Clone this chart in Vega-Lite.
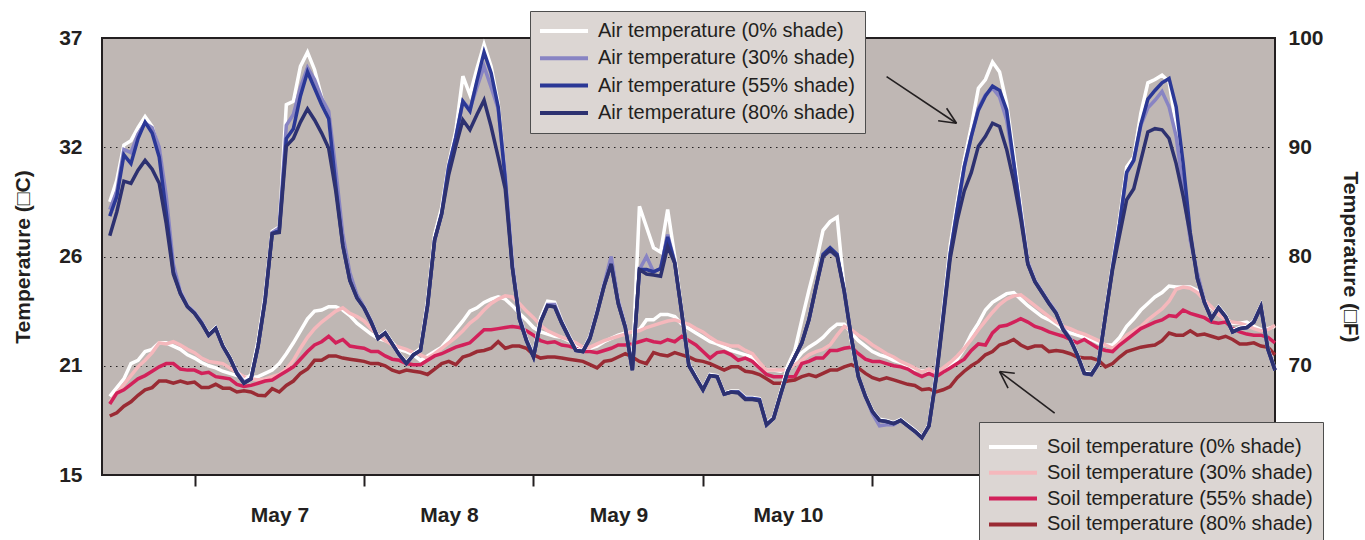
{
"$schema": "https://vega.github.io/schema/vega-lite/v6.json",
"width": 1173,
"height": 437,
"autosize": {"type": "none"},
"padding": {"left": 102, "top": 38, "right": 90, "bottom": 65},
"background": "#ffffff",
"datasets": {
"names": [
{"k": "a0", "name": "Air temperature (0% shade)"},
{"k": "a3", "name": "Air temperature (30% shade)"},
{"k": "a5", "name": "Air temperature (55% shade)"},
{"k": "a8", "name": "Air temperature (80% shade)"},
{"k": "s0", "name": "Soil temperature (0% shade)"},
{"k": "s3", "name": "Soil temperature (30% shade)"},
{"k": "s5", "name": "Soil temperature (55% shade)"},
{"k": "s8", "name": "Soil temperature (80% shade)"}
]
},
"data": {"values": [
{"h":12,"a0":85.0,"a3":84.3,"a5":83.7,"a8":81.9,"s0":67.2,"s3":66.7,"s5":66.5,"s8":65.4},
{"h":13,"a0":87.0,"a3":86.0,"a5":85.5,"a8":84.1,"s0":68.0,"s3":67.5,"s5":67.5,"s8":65.7},
{"h":14,"a0":90.2,"a3":89.8,"a5":89.3,"a8":86.9,"s0":68.8,"s3":68.3,"s5":67.8,"s8":66.3},
{"h":15,"a0":90.6,"a3":89.5,"a5":88.5,"a8":86.7,"s0":70.2,"s3":69.1,"s5":68.3,"s8":66.7},
{"h":16,"a0":91.8,"a3":91.2,"a5":90.8,"a8":87.9,"s0":70.5,"s3":69.9,"s5":68.8,"s8":67.3},
{"h":17,"a0":92.8,"a3":92.2,"a5":92.3,"a8":88.8,"s0":71.3,"s3":70.5,"s5":69.1,"s8":67.8},
{"h":18,"a0":91.9,"a3":91.8,"a5":91.3,"a8":88.0,"s0":71.5,"s3":71.2,"s5":69.5,"s8":68.0},
{"h":19,"a0":89.7,"a3":90.0,"a5":89.1,"a8":86.7,"s0":72.1,"s3":72.1,"s5":69.9,"s8":68.6},
{"h":20,"a0":84.5,"a3":85.5,"a5":84.0,"a8":83.0,"s0":72.1,"s3":72.0,"s5":70.2,"s8":68.6},
{"h":21,"a0":79.0,"a3":79.3,"a5":78.6,"a8":78.4,"s0":71.8,"s3":72.2,"s5":70.2,"s8":68.4},
{"h":22,"a0":76.8,"a3":76.8,"a5":76.6,"a8":76.6,"s0":71.5,"s3":71.9,"s5":69.7,"s8":68.6},
{"h":23,"a0":75.5,"a3":75.5,"a5":75.4,"a8":75.4,"s0":71.0,"s3":71.5,"s5":69.6,"s8":68.4},
{"h":24,"a0":74.9,"a3":74.9,"a5":74.8,"a8":74.8,"s0":70.7,"s3":71.2,"s5":69.6,"s8":68.5},
{"h":25,"a0":74.0,"a3":74.0,"a5":73.9,"a8":73.9,"s0":70.3,"s3":70.7,"s5":69.3,"s8":68.0},
{"h":26,"a0":72.9,"a3":72.8,"a5":72.8,"a8":72.8,"s0":70.0,"s3":70.4,"s5":69.4,"s8":68.0},
{"h":27,"a0":73.5,"a3":73.4,"a5":73.4,"a8":73.4,"s0":69.8,"s3":70.3,"s5":69.0,"s8":68.3},
{"h":28,"a0":71.9,"a3":71.8,"a5":71.8,"a8":71.8,"s0":69.5,"s3":70.2,"s5":68.9,"s8":67.95},
{"h":29,"a0":70.8,"a3":70.7,"a5":70.7,"a8":70.7,"s0":69.3,"s3":69.8,"s5":68.8,"s8":67.95},
{"h":30,"a0":69.5,"a3":69.4,"a5":69.3,"a8":69.3,"s0":69.1,"s3":69.4,"s5":68.3,"s8":67.6},
{"h":31,"a0":68.6,"a3":68.5,"a5":68.4,"a8":68.4,"s0":69.0,"s3":69.0,"s5":68.1,"s8":67.7},
{"h":32,"a0":69.2,"a3":68.8,"a5":68.8,"a8":68.8,"s0":68.9,"s3":68.8,"s5":68.2,"s8":67.6},
{"h":33,"a0":72.3,"a3":71.8,"a5":71.8,"a8":71.8,"s0":69.0,"s3":68.7,"s5":68.4,"s8":67.3},
{"h":34,"a0":76.6,"a3":76.2,"a5":76.0,"a8":76.0,"s0":69.3,"s3":68.8,"s5":68.6,"s8":67.25},
{"h":35,"a0":82.3,"a3":82.2,"a5":82.1,"a8":82.1,"s0":69.6,"s3":69.0,"s5":68.7,"s8":67.9},
{"h":36,"a0":82.7,"a3":82.6,"a5":82.4,"a8":82.2,"s0":70.2,"s3":69.2,"s5":69.1,"s8":67.6},
{"h":37,"a0":93.9,"a3":92.0,"a5":90.8,"a8":90.1,"s0":71.1,"s3":69.7,"s5":69.5,"s8":68.2},
{"h":38,"a0":94.2,"a3":93.0,"a5":91.7,"a8":90.8,"s0":72.1,"s3":70.5,"s5":69.9,"s8":68.6},
{"h":39,"a0":97.4,"a3":95.5,"a5":94.7,"a8":92.3,"s0":73.2,"s3":71.6,"s5":70.6,"s8":69.3},
{"h":40,"a0":98.7,"a3":97.3,"a5":96.9,"a8":93.5,"s0":74.3,"s3":72.6,"s5":71.3,"s8":69.7},
{"h":41,"a0":97.1,"a3":96.2,"a5":95.4,"a8":92.5,"s0":75.0,"s3":73.4,"s5":71.9,"s8":70.5},
{"h":42,"a0":94.6,"a3":94.5,"a5":93.9,"a8":91.3,"s0":75.1,"s3":74.0,"s5":72.2,"s8":70.5},
{"h":43,"a0":92.8,"a3":93.3,"a5":92.6,"a8":89.9,"s0":75.4,"s3":74.5,"s5":72.7,"s8":70.9},
{"h":44,"a0":87.0,"a3":88.0,"a5":86.5,"a8":86.0,"s0":75.4,"s3":75.0,"s5":72.1,"s8":70.9},
{"h":45,"a0":81.3,"a3":82.0,"a5":81.0,"a8":81.0,"s0":75.1,"s3":75.3,"s5":72.4,"s8":70.7},
{"h":46,"a0":78.0,"a3":78.5,"a5":77.8,"a8":77.8,"s0":74.6,"s3":74.8,"s5":71.8,"s8":70.6},
{"h":47,"a0":76.3,"a3":76.5,"a5":76.2,"a8":76.2,"s0":73.9,"s3":74.5,"s5":71.7,"s8":70.5},
{"h":48,"a0":75.4,"a3":75.4,"a5":75.3,"a8":75.3,"s0":73.4,"s3":74.1,"s5":71.6,"s8":70.4},
{"h":49,"a0":74.1,"a3":74.1,"a5":74.0,"a8":74.0,"s0":72.9,"s3":73.4,"s5":71.3,"s8":70.2},
{"h":50,"a0":72.6,"a3":72.5,"a5":72.5,"a8":72.5,"s0":72.5,"s3":72.8,"s5":71.3,"s8":70.2},
{"h":51,"a0":73.1,"a3":73.0,"a5":73.0,"a8":73.0,"s0":72.3,"s3":72.3,"s5":70.9,"s8":70.0},
{"h":52,"a0":72.1,"a3":72.0,"a5":72.0,"a8":72.0,"s0":72.1,"s3":71.9,"s5":70.6,"s8":69.6},
{"h":53,"a0":71.1,"a3":71.0,"a5":71.0,"a8":71.0,"s0":71.5,"s3":71.7,"s5":70.5,"s8":69.4},
{"h":54,"a0":70.3,"a3":70.2,"a5":70.2,"a8":70.2,"s0":71.3,"s3":71.5,"s5":70.2,"s8":69.6},
{"h":55,"a0":71.1,"a3":71.0,"a5":71.0,"a8":71.0,"s0":71.0,"s3":71.2,"s5":70.1,"s8":69.5},
{"h":56,"a0":71.6,"a3":71.4,"a5":71.4,"a8":71.4,"s0":70.5,"s3":71.0,"s5":70.1,"s8":69.4},
{"h":57,"a0":76.0,"a3":75.6,"a5":75.5,"a8":75.5,"s0":70.9,"s3":70.7,"s5":70.5,"s8":69.2},
{"h":58,"a0":82.0,"a3":81.5,"a5":81.5,"a8":81.5,"s0":71.3,"s3":71.1,"s5":70.9,"s8":69.7},
{"h":59,"a0":84.5,"a3":84.0,"a5":83.9,"a8":83.9,"s0":71.7,"s3":71.6,"s5":71.1,"s8":70.2},
{"h":60,"a0":88.5,"a3":88.3,"a5":88.2,"a8":87.5,"s0":72.5,"s3":72.1,"s5":71.4,"s8":70.4},
{"h":61,"a0":91.5,"a3":90.9,"a5":90.9,"a8":90.1,"s0":73.3,"s3":72.6,"s5":71.7,"s8":70.1},
{"h":62,"a0":96.5,"a3":94.2,"a5":94.2,"a8":92.5,"s0":74.1,"s3":73.2,"s5":71.9,"s8":70.8},
{"h":63,"a0":94.8,"a3":93.5,"a5":93.3,"a8":91.6,"s0":75.0,"s3":73.9,"s5":72.1,"s8":71.0},
{"h":64,"a0":97.2,"a3":95.5,"a5":96.1,"a8":93.0,"s0":75.3,"s3":74.4,"s5":72.7,"s8":71.3},
{"h":65,"a0":99.4,"a3":97.4,"a5":98.7,"a8":94.3,"s0":75.8,"s3":75.1,"s5":73.3,"s8":71.4},
{"h":66,"a0":97.4,"a3":95.5,"a5":96.8,"a8":91.9,"s0":76.1,"s3":75.7,"s5":73.3,"s8":71.6},
{"h":67,"a0":94.0,"a3":93.5,"a5":93.7,"a8":89.1,"s0":76.3,"s3":76.1,"s5":73.4,"s8":72.2},
{"h":68,"a0":87.3,"a3":87.5,"a5":87.0,"a8":86.2,"s0":76.1,"s3":76.4,"s5":73.5,"s8":71.6},
{"h":69,"a0":79.5,"a3":79.5,"a5":79.0,"a8":79.0,"s0":75.5,"s3":76.3,"s5":73.6,"s8":71.8},
{"h":70,"a0":74.6,"a3":74.5,"a5":74.3,"a8":74.3,"s0":74.8,"s3":75.7,"s5":73.5,"s8":71.8},
{"h":71,"a0":72.5,"a3":72.4,"a5":72.3,"a8":72.3,"s0":74.2,"s3":75.0,"s5":73.2,"s8":71.6},
{"h":72,"a0":71.0,"a3":70.9,"a5":70.8,"a8":70.8,"s0":73.5,"s3":74.4,"s5":72.8,"s8":71.0},
{"h":73,"a0":74.4,"a3":74.0,"a5":74.0,"a8":74.0,"s0":73.1,"s3":73.7,"s5":72.3,"s8":70.7},
{"h":74,"a0":75.9,"a3":75.6,"a5":75.5,"a8":75.5,"s0":72.9,"s3":73.2,"s5":72.1,"s8":70.8},
{"h":75,"a0":75.8,"a3":75.6,"a5":75.4,"a8":75.4,"s0":72.7,"s3":72.9,"s5":72.2,"s8":70.8},
{"h":76,"a0":74.1,"a3":74.0,"a5":73.9,"a8":73.9,"s0":72.6,"s3":72.6,"s5":71.9,"s8":70.7},
{"h":77,"a0":72.8,"a3":72.7,"a5":72.6,"a8":72.6,"s0":72.3,"s3":72.4,"s5":71.8,"s8":70.6},
{"h":78,"a0":71.5,"a3":71.4,"a5":71.4,"a8":71.4,"s0":71.8,"s3":72.1,"s5":71.6,"s8":70.5},
{"h":79,"a0":71.4,"a3":71.3,"a5":71.3,"a8":71.3,"s0":71.4,"s3":71.7,"s5":71.3,"s8":70.4},
{"h":80,"a0":72.7,"a3":72.6,"a5":72.5,"a8":72.5,"s0":71.6,"s3":71.7,"s5":71.3,"s8":70.1},
{"h":81,"a0":75.0,"a3":74.9,"a5":74.8,"a8":74.8,"s0":71.8,"s3":72.0,"s5":71.2,"s8":69.8},
{"h":82,"a0":77.5,"a3":77.5,"a5":77.3,"a8":77.3,"s0":72.2,"s3":72.3,"s5":71.4,"s8":70.4},
{"h":83,"a0":79.6,"a3":80.0,"a5":79.3,"a8":79.3,"s0":72.5,"s3":72.5,"s5":71.6,"s8":70.5},
{"h":84,"a0":76.0,"a3":76.0,"a5":75.7,"a8":75.7,"s0":72.8,"s3":72.7,"s5":71.9,"s8":70.8},
{"h":85,"a0":73.6,"a3":73.6,"a5":73.5,"a8":73.5,"s0":73.0,"s3":72.9,"s5":71.9,"s8":71.1},
{"h":86,"a0":69.8,"a3":69.7,"a5":69.6,"a8":69.6,"s0":73.1,"s3":73.1,"s5":72.0,"s8":70.8},
{"h":87,"a0":84.6,"a3":78.8,"a5":78.8,"a8":78.8,"s0":73.3,"s3":73.2,"s5":72.2,"s8":70.4},
{"h":88,"a0":82.7,"a3":80.0,"a5":78.8,"a8":78.4,"s0":74.2,"s3":73.5,"s5":72.4,"s8":70.2},
{"h":89,"a0":80.8,"a3":78.6,"a5":78.6,"a8":78.3,"s0":74.2,"s3":73.7,"s5":72.2,"s8":71.2},
{"h":90,"a0":80.4,"a3":78.9,"a5":78.9,"a8":78.2,"s0":74.7,"s3":73.9,"s5":72.1,"s8":71.0},
{"h":91,"a0":84.3,"a3":82.0,"a5":81.8,"a8":80.9,"s0":74.7,"s3":74.1,"s5":72.4,"s8":70.9},
{"h":92,"a0":80.0,"a3":79.5,"a5":79.4,"a8":79.4,"s0":74.5,"s3":74.2,"s5":72.2,"s8":71.2},
{"h":93,"a0":75.0,"a3":74.9,"a5":74.8,"a8":74.8,"s0":73.8,"s3":74.0,"s5":72.7,"s8":71.0},
{"h":94,"a0":70.2,"a3":70.1,"a5":70.0,"a8":70.0,"s0":73.4,"s3":73.8,"s5":72.3,"s8":70.8},
{"h":95,"a0":69.0,"a3":68.9,"a5":68.9,"a8":68.9,"s0":73.0,"s3":73.4,"s5":71.9,"s8":70.5},
{"h":96,"a0":67.9,"a3":67.8,"a5":67.8,"a8":67.8,"s0":72.6,"s3":73.1,"s5":71.3,"s8":70.4},
{"h":97,"a0":69.2,"a3":69.1,"a5":69.1,"a8":69.1,"s0":72.2,"s3":72.6,"s5":70.7,"s8":70.2},
{"h":98,"a0":69.1,"a3":69.0,"a5":69.0,"a8":69.0,"s0":72.0,"s3":72.2,"s5":71.2,"s8":69.9},
{"h":99,"a0":67.5,"a3":67.4,"a5":67.4,"a8":67.4,"s0":71.7,"s3":72.0,"s5":71.3,"s8":69.6},
{"h":100,"a0":67.7,"a3":67.6,"a5":67.6,"a8":67.6,"s0":71.4,"s3":71.8,"s5":71.0,"s8":69.9},
{"h":101,"a0":67.7,"a3":67.6,"a5":67.6,"a8":67.5,"s0":71.2,"s3":71.8,"s5":70.5,"s8":69.9},
{"h":102,"a0":67.1,"a3":67.0,"a5":67.0,"a8":66.9,"s0":71.0,"s3":71.4,"s5":70.7,"s8":69.5},
{"h":103,"a0":67.1,"a3":67.0,"a5":67.0,"a8":66.9,"s0":70.8,"s3":71.1,"s5":70.4,"s8":69.4},
{"h":104,"a0":67.0,"a3":66.9,"a5":66.9,"a8":66.8,"s0":70.0,"s3":70.3,"s5":69.8,"s8":69.2},
{"h":105,"a0":64.7,"a3":64.6,"a5":64.6,"a8":64.6,"s0":69.6,"s3":69.6,"s5":69.2,"s8":68.8},
{"h":106,"a0":65.3,"a3":65.2,"a5":65.2,"a8":65.2,"s0":69.6,"s3":69.6,"s5":69.0,"s8":68.4},
{"h":107,"a0":67.6,"a3":67.4,"a5":67.4,"a8":67.4,"s0":69.5,"s3":69.6,"s5":69.0,"s8":68.4},
{"h":108,"a0":70.0,"a3":69.5,"a5":69.5,"a8":69.5,"s0":69.8,"s3":69.6,"s5":69.0,"s8":68.6},
{"h":109,"a0":71.4,"a3":70.8,"a5":70.8,"a8":70.8,"s0":70.4,"s3":70.1,"s5":69.0,"s8":68.7},
{"h":110,"a0":74.2,"a3":72.1,"a5":72.1,"a8":72.1,"s0":71.2,"s3":70.5,"s5":70.2,"s8":69.0},
{"h":111,"a0":76.9,"a3":74.2,"a5":74.2,"a8":74.2,"s0":71.7,"s3":71.0,"s5":70.4,"s8":69.2},
{"h":112,"a0":79.4,"a3":77.2,"a5":77.2,"a8":77.2,"s0":72.1,"s3":71.3,"s5":70.7,"s8":69.0},
{"h":113,"a0":82.4,"a3":80.0,"a5":80.2,"a8":80.0,"s0":72.6,"s3":71.5,"s5":70.7,"s8":69.3},
{"h":114,"a0":83.2,"a3":80.5,"a5":80.8,"a8":80.6,"s0":73.3,"s3":71.9,"s5":71.4,"s8":69.6},
{"h":115,"a0":83.6,"a3":80.0,"a5":80.2,"a8":80.0,"s0":73.8,"s3":72.8,"s5":71.4,"s8":69.6},
{"h":116,"a0":77.0,"a3":77.0,"a5":76.8,"a8":76.8,"s0":73.8,"s3":73.6,"s5":71.6,"s8":69.9},
{"h":117,"a0":72.3,"a3":72.6,"a5":72.6,"a8":72.6,"s0":73.0,"s3":73.3,"s5":71.7,"s8":70.1},
{"h":118,"a0":69.0,"a3":69.0,"a5":69.0,"a8":69.0,"s0":72.3,"s3":72.8,"s5":71.1,"s8":69.8},
{"h":119,"a0":67.3,"a3":67.2,"a5":67.2,"a8":67.2,"s0":71.8,"s3":72.4,"s5":70.6,"s8":69.3},
{"h":120,"a0":65.9,"a3":65.6,"a5":65.8,"a8":65.8,"s0":71.3,"s3":71.9,"s5":70.4,"s8":68.9},
{"h":121,"a0":65.1,"a3":64.5,"a5":65.0,"a8":65.0,"s0":71.0,"s3":71.5,"s5":70.4,"s8":68.7},
{"h":122,"a0":65.0,"a3":64.6,"a5":64.9,"a8":64.9,"s0":70.8,"s3":71.1,"s5":70.2,"s8":68.9},
{"h":123,"a0":64.8,"a3":64.6,"a5":64.7,"a8":64.7,"s0":70.5,"s3":70.8,"s5":70.0,"s8":68.7},
{"h":124,"a0":65.1,"a3":65.0,"a5":65.0,"a8":65.0,"s0":70.3,"s3":70.4,"s5":69.9,"s8":68.5},
{"h":125,"a0":64.6,"a3":64.5,"a5":64.5,"a8":64.5,"s0":70.0,"s3":70.1,"s5":69.7,"s8":68.3},
{"h":126,"a0":64.1,"a3":64.0,"a5":64.0,"a8":64.0,"s0":69.7,"s3":69.8,"s5":69.3,"s8":68.2},
{"h":127,"a0":63.5,"a3":63.4,"a5":63.4,"a8":63.4,"s0":69.5,"s3":69.4,"s5":69.0,"s8":67.8},
{"h":128,"a0":64.6,"a3":64.5,"a5":64.5,"a8":64.5,"s0":69.6,"s3":69.7,"s5":69.3,"s8":67.9},
{"h":129,"a0":69.2,"a3":68.9,"a5":68.9,"a8":68.7,"s0":69.3,"s3":69.3,"s5":69.0,"s8":67.6},
{"h":130,"a0":75.0,"a3":74.5,"a5":74.5,"a8":74.2,"s0":69.4,"s3":69.8,"s5":69.4,"s8":67.8},
{"h":131,"a0":81.0,"a3":80.2,"a5":80.2,"a8":79.8,"s0":69.9,"s3":70.3,"s5":69.8,"s8":68.1},
{"h":132,"a0":85.0,"a3":84.3,"a5":84.3,"a8":83.3,"s0":70.6,"s3":70.9,"s5":70.2,"s8":68.9},
{"h":133,"a0":88.8,"a3":88.2,"a5":88.2,"a8":86.0,"s0":71.6,"s3":71.6,"s5":70.6,"s8":69.5},
{"h":134,"a0":91.9,"a3":91.0,"a5":91.0,"a8":87.7,"s0":72.9,"s3":72.4,"s5":71.4,"s8":70.0},
{"h":135,"a0":95.4,"a3":93.6,"a5":93.4,"a8":90.1,"s0":73.9,"s3":73.3,"s5":72.0,"s8":70.4},
{"h":136,"a0":96.2,"a3":94.8,"a5":94.7,"a8":91.0,"s0":75.1,"s3":74.1,"s5":71.9,"s8":71.0},
{"h":137,"a0":97.8,"a3":95.4,"a5":95.6,"a8":92.2,"s0":75.8,"s3":74.9,"s5":73.0,"s8":71.3},
{"h":138,"a0":96.9,"a3":94.6,"a5":95.2,"a8":91.9,"s0":76.2,"s3":75.6,"s5":73.6,"s8":71.9},
{"h":139,"a0":94.0,"a3":92.5,"a5":93.4,"a8":89.8,"s0":76.6,"s3":76.1,"s5":73.7,"s8":72.1},
{"h":140,"a0":89.4,"a3":88.5,"a5":88.6,"a8":86.9,"s0":76.7,"s3":76.4,"s5":74.0,"s8":72.4},
{"h":141,"a0":84.5,"a3":84.0,"a5":83.8,"a8":83.4,"s0":76.1,"s3":76.5,"s5":74.3,"s8":71.9},
{"h":142,"a0":79.5,"a3":79.5,"a5":79.3,"a8":79.3,"s0":75.5,"s3":76.0,"s5":74.0,"s8":71.6},
{"h":143,"a0":77.8,"a3":77.8,"a5":77.7,"a8":77.7,"s0":75.0,"s3":75.5,"s5":73.6,"s8":71.8},
{"h":144,"a0":76.8,"a3":76.8,"a5":76.7,"a8":76.7,"s0":74.5,"s3":75.0,"s5":73.4,"s8":71.8},
{"h":145,"a0":75.8,"a3":75.8,"a5":75.7,"a8":75.7,"s0":74.2,"s3":74.5,"s5":73.1,"s8":71.3},
{"h":146,"a0":74.9,"a3":74.9,"a5":74.8,"a8":74.8,"s0":73.8,"s3":74.0,"s5":72.9,"s8":71.4},
{"h":147,"a0":73.4,"a3":73.4,"a5":73.3,"a8":73.3,"s0":73.3,"s3":73.6,"s5":72.7,"s8":71.3},
{"h":148,"a0":72.5,"a3":72.5,"a5":72.4,"a8":72.4,"s0":73.0,"s3":73.4,"s5":72.4,"s8":71.1},
{"h":149,"a0":71.1,"a3":71.0,"a5":71.0,"a8":71.0,"s0":72.8,"s3":73.1,"s5":72.1,"s8":70.8},
{"h":150,"a0":69.4,"a3":69.3,"a5":69.3,"a8":69.3,"s0":72.6,"s3":72.9,"s5":72.4,"s8":70.7},
{"h":151,"a0":69.3,"a3":69.2,"a5":69.2,"a8":69.2,"s0":72.4,"s3":72.6,"s5":72.0,"s8":70.7},
{"h":152,"a0":70.3,"a3":70.2,"a5":70.2,"a8":70.2,"s0":72.1,"s3":72.3,"s5":71.6,"s8":70.5},
{"h":153,"a0":74.8,"a3":74.6,"a5":74.6,"a8":74.6,"s0":71.9,"s3":71.9,"s5":71.4,"s8":69.9},
{"h":154,"a0":79.3,"a3":79.0,"a5":79.0,"a8":78.8,"s0":71.9,"s3":71.6,"s5":71.3,"s8":70.2},
{"h":155,"a0":83.5,"a3":83.0,"a5":83.0,"a8":82.0,"s0":72.6,"s3":72.1,"s5":71.9,"s8":70.8},
{"h":156,"a0":88.2,"a3":87.7,"a5":87.7,"a8":85.2,"s0":73.6,"s3":72.8,"s5":72.4,"s8":71.3},
{"h":157,"a0":89.1,"a3":88.8,"a5":88.8,"a8":86.2,"s0":74.3,"s3":73.2,"s5":72.9,"s8":71.5},
{"h":158,"a0":93.1,"a3":92.0,"a5":92.1,"a8":88.8,"s0":75.1,"s3":73.6,"s5":73.4,"s8":71.7},
{"h":159,"a0":95.9,"a3":93.6,"a5":94.4,"a8":91.4,"s0":75.7,"s3":74.2,"s5":73.7,"s8":71.8},
{"h":160,"a0":96.2,"a3":94.3,"a5":95.2,"a8":91.7,"s0":76.3,"s3":74.7,"s5":74.0,"s8":71.9},
{"h":161,"a0":96.6,"a3":95.1,"a5":95.9,"a8":91.6,"s0":76.7,"s3":75.2,"s5":74.2,"s8":72.3},
{"h":162,"a0":96.0,"a3":93.7,"a5":96.3,"a8":90.8,"s0":77.3,"s3":75.9,"s5":74.6,"s8":73.0},
{"h":163,"a0":92.0,"a3":91.0,"a5":93.7,"a8":88.5,"s0":77.2,"s3":77.0,"s5":74.5,"s8":72.8},
{"h":164,"a0":87.0,"a3":86.3,"a5":88.5,"a8":85.5,"s0":77.2,"s3":77.2,"s5":75.1,"s8":72.8},
{"h":165,"a0":82.0,"a3":81.5,"a5":82.2,"a8":82.0,"s0":77.2,"s3":77.1,"s5":74.8,"s8":73.2},
{"h":166,"a0":78.1,"a3":78.5,"a5":78.0,"a8":78.0,"s0":76.9,"s3":76.7,"s5":74.6,"s8":72.8},
{"h":167,"a0":75.9,"a3":75.9,"a5":75.8,"a8":75.8,"s0":76.0,"s3":76.0,"s5":74.4,"s8":72.9},
{"h":168,"a0":74.4,"a3":74.3,"a5":74.3,"a8":74.3,"s0":75.3,"s3":75.4,"s5":74.0,"s8":72.7},
{"h":169,"a0":75.4,"a3":75.3,"a5":75.3,"a8":75.3,"s0":74.7,"s3":74.7,"s5":73.9,"s8":72.5},
{"h":170,"a0":74.6,"a3":74.5,"a5":74.5,"a8":74.5,"s0":74.3,"s3":74.2,"s5":74.0,"s8":72.7},
{"h":171,"a0":73.2,"a3":73.1,"a5":73.1,"a8":73.1,"s0":73.9,"s3":74.0,"s5":73.4,"s8":72.4},
{"h":172,"a0":73.5,"a3":73.4,"a5":73.4,"a8":73.4,"s0":73.9,"s3":73.9,"s5":73.1,"s8":72.0},
{"h":173,"a0":73.6,"a3":73.5,"a5":73.5,"a8":73.5,"s0":74.0,"s3":73.7,"s5":72.9,"s8":72.0},
{"h":174,"a0":74.1,"a3":74.0,"a5":74.0,"a8":74.0,"s0":73.6,"s3":73.4,"s5":72.8,"s8":72.1},
{"h":175,"a0":75.5,"a3":75.4,"a5":75.4,"a8":75.4,"s0":73.3,"s3":73.2,"s5":72.8,"s8":71.8},
{"h":176,"a0":71.6,"a3":71.5,"a5":71.5,"a8":71.5,"s0":73.4,"s3":73.3,"s5":72.6,"s8":71.7},
{"h":177,"a0":69.7,"a3":69.6,"a5":69.6,"a8":69.6,"s0":73.6,"s3":73.7,"s5":72.1,"s8":71.0}
]},
"layer": [
{
"transform": [
{"fold": ["s0","s3","s5","s8"], "as": ["k","t"]},
{"lookup": "k", "from": {"data": {"name": "names"}, "key": "k", "fields": ["name"]}}
],
"mark": {"type": "line", "strokeWidth": 3.5},
"encoding": {
"x": {"field": "h", "type": "quantitative", "scale": {"domain": [10.9, 177], "nice": false, "zero": false},
"axis": {"orient": "bottom", "values": [24,48,72,96,120,144,168],
"labelExpr": "datum.value==24?'May 7':datum.value==48?'May 8':datum.value==72?'May 9':datum.value==96?'May 10':''",
"labelOffset": 85, "tickSize": 11, "tickWidth": 2, "tickColor": "#231f20", "domain": false, "grid": false,
"labelPadding": 18, "title": null}},
"y": {"field": "t", "type": "quantitative", "scale": {"domain": [60, 100], "nice": false, "zero": false},
"axis": {"orient": "left", "values": [60,70,80,90,100],
"labelExpr": "datum.value==60?'15':datum.value==70?'21':datum.value==80?'26':datum.value==90?'32':'37'",
"ticks": false, "domain": false, "grid": false, "labelPadding": 20,
"title": "Temperature (□C)", "titlePadding": 25}},
"color": {"field": "name", "type": "nominal",
"scale": {"domain": ["Soil temperature (0% shade)","Soil temperature (30% shade)","Soil temperature (55% shade)","Soil temperature (80% shade)"],
"range": ["#ffffff","#f5b8bc","#d2215a","#9a2b34"]},
"legend": {"orient": "none", "legendX": 877, "legendY": 384, "title": " ", "titleFontSize": 5, "titlePadding": 0, "rowPadding": 5.8}}
}
},
{
"transform": [
{"fold": ["a0","a3","a5","a8"], "as": ["k","t"]},
{"lookup": "k", "from": {"data": {"name": "names"}, "key": "k", "fields": ["name"]}}
],
"mark": {"type": "line", "strokeWidth": 3.5},
"encoding": {
"x": {"field": "h", "type": "quantitative", "scale": {"domain": [10.9, 177], "nice": false, "zero": false}, "axis": null},
"y": {"field": "t", "type": "quantitative", "scale": {"domain": [60, 100], "nice": false, "zero": false},
"axis": {"orient": "right", "values": [70,80,90,100], "ticks": false, "domain": false,
"grid": true, "gridDash": [1.5, 4.5], "gridColor": "#231f20", "gridWidth": 1.2,
"labelPadding": 13, "title": "Temperature (□F)", "titlePadding": 16}},
"color": {"field": "name", "type": "nominal",
"scale": {"domain": ["Air temperature (0% shade)","Air temperature (30% shade)","Air temperature (55% shade)","Air temperature (80% shade)"],
"range": ["#ffffff","#8884c3","#2b3896","#2d3170"]},
"legend": {"orient": "none", "legendX": 428, "legendY": -27, "title": null, "rowPadding": 7.3}}
}
},
{
"data": {"values": [
{"x1":122.0,"y1":96.46,"x2":131.9,"y2":92.2},
{"x1":131.9,"y1":92.2,"x2":129.3,"y2":92.43},
{"x1":131.9,"y1":92.2,"x2":130.5,"y2":93.57},
{"x1":145.8,"y1":65.66,"x2":138.0,"y2":69.47},
{"x1":138.0,"y1":69.47,"x2":140.15,"y2":69.32},
{"x1":138.0,"y1":69.47,"x2":139.2,"y2":67.95}
]},
"mark": {"type": "rule", "color": "#231f20", "strokeWidth": 1.6},
"encoding": {
"x": {"field": "x1", "type": "quantitative", "scale": {"domain": [10.9, 177], "nice": false, "zero": false}, "axis": null},
"y": {"field": "y1", "type": "quantitative", "scale": {"domain": [60, 100], "nice": false, "zero": false}, "axis": null},
"x2": {"field": "x2"},
"y2": {"field": "y2"}
}
}
],
"resolve": {"scale": {"color": "independent", "y": "independent"}, "axis": {"x": "independent", "y": "independent"}},
"config": {
"view": {"fill": "#bfb7b4", "stroke": "#231f20", "strokeWidth": 2},
"axis": {"labelFont": "Liberation Sans", "labelFontWeight": "bold", "labelFontSize": 21, "labelColor": "#231f20",
"titleFont": "Liberation Sans", "titleFontWeight": "bold", "titleFontSize": 21, "titleColor": "#231f20",
"labelFlush": false, "labelOverlap": false, "labelBound": false},
"legend": {"padding": 10, "fillColor": "#dcd6d3", "strokeColor": "#4d4d4d", "strokeWidth": 1,
"symbolType": "M-4.8,0L4.8,0", "symbolSize": 100, "symbolStrokeWidth": 4, "symbolOffset": 14,
"labelFont": "Liberation Sans", "labelFontSize": 20, "labelColor": "#231f20", "labelOffset": 24, "labelLimit": 400}
}
}
